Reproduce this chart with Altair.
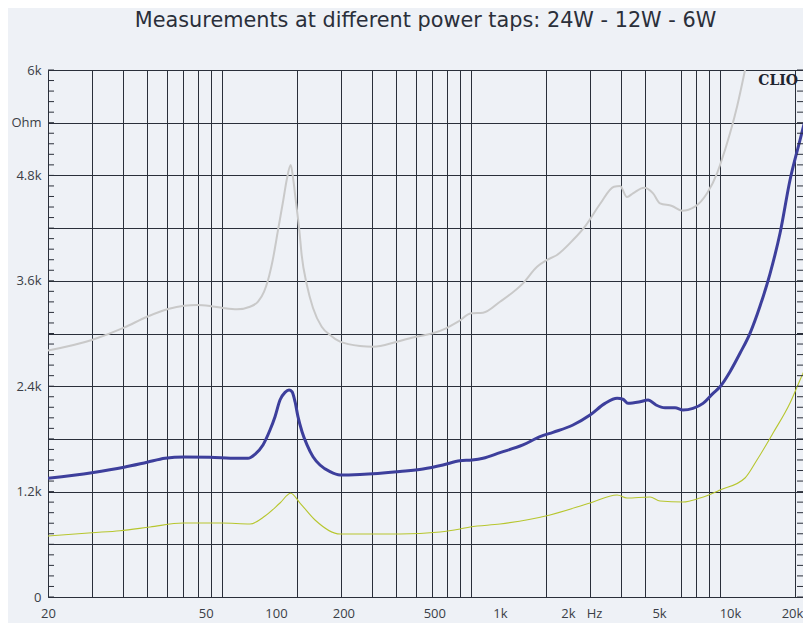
import altair as alt
import pandas as pd

# ---- data (frequency in Hz, value in Ohm) ----
grey_f = [20, 30, 40.4, 50, 60.7, 70.3, 79.3, 89.4, 100.8, 114.8, 129.5, 139.5, 147.5, 153,
          159.8, 167.8, 176.2, 181.8, 188.7, 193.3, 197.6, 204.3, 208.9, 218.8, 231.9, 251.3,
          271.4, 297.7, 358.2, 403.9, 504.2, 601, 703, 793, 887, 1000, 1117, 1307, 1616, 1841,
          2018, 2213, 2566, 2896, 3296, 3750, 3966, 4229, 4468, 4950, 5383, 5740, 6414, 7034,
          7929, 8867, 9724, 9999, 10964, 11698, 12594, 12950]
grey_v = [2806, 2926, 3066, 3191, 3279, 3316, 3324, 3313, 3290, 3275, 3305, 3362, 3476, 3609,
          3837, 4178, 4520, 4748, 4918, 4748, 4520, 4178, 3890, 3560, 3290, 3077,
          2983, 2907, 2858, 2850, 2907, 2964, 3002, 3059, 3134, 3230, 3237, 3362, 3571, 3760,
          3837, 3894, 4064, 4235, 4474, 4671, 4679, 4554, 4596, 4660, 4596, 4482, 4452, 4398,
          4444, 4596, 4824, 4918, 5279, 5582, 6000, 6170]

blue_f = [20, 30, 40.4, 50, 59, 70.3, 89.4, 114.8, 127, 135.6, 146, 155.8, 163.2, 170.9, 179,
          185.8, 191, 196.4, 201.8, 209.5, 219.4, 231.9, 247.4, 271.4, 297.7, 358, 518, 641,
          771, 903, 1009, 1117, 1307, 1616, 1892, 2134, 2566, 3004, 3452, 3860, 4075, 4268,
          4771, 5136, 5532, 6011, 6594, 7098, 7783, 8541, 9373, 9999, 10964, 12025, 13188,
          14463, 15868, 17411, 19099, 20947, 22544]
blue_v = [1351, 1415, 1477, 1534, 1579, 1594, 1590, 1579, 1579, 1625, 1731, 1901, 2053, 2243,
          2330, 2357, 2337, 2223, 2053, 1882, 1731, 1597, 1503, 1427, 1389, 1395, 1429, 1457,
          1503, 1552, 1560, 1579, 1643, 1731, 1825, 1875, 1958, 2072, 2205, 2262, 2251, 2205,
          2223, 2243, 2186, 2155, 2155, 2129, 2148, 2205, 2319, 2394, 2565, 2775, 3002,
          3310, 3680, 4141, 4748, 5203, 5564]

yellow_f = [20, 30, 38.9, 51.4, 69.7, 100, 129.5, 148.8, 170.9, 188.7, 205.6, 236.3, 297.7,
            358, 518, 750.6, 903, 990.6, 1307, 2075, 3004, 3860, 4229, 5233, 5740, 7098, 8309,
            9999, 12594, 14067, 16325, 19099, 20947, 22544]
yellow_v = [694, 732, 755, 797, 842, 842, 831, 922, 1070, 1181, 1070, 877, 717,
            717, 717, 740, 774, 797, 831, 934, 1070, 1161, 1127, 1139, 1093, 1082, 1127,
            1218, 1355, 1560, 1867, 2209, 2471, 2675]

series_names = ["6W", "12W", "24W"]
series_colors = ["#c9c9c9", "#3d3f9c", "#b7c62e"]
series_widths = [2, 3, 1.1]

# x-axis: gridlines (Hz) and the tick labels as they sit in the picture
grid_x = [30, 40, 50, 60, 70, 80, 90, 100, 200, 300, 400, 500, 600, 700, 800, 900,
          1000, 2000, 3000, 4000, 5000, 7000, 8000, 9000, 10000, 20000]
xlabel_pos = [20, 86, 164.7, 307, 712, 1306, 2450, 3118, 5688, 10965, 19450]
xlabel_txt = ["20", "50", "100", "200", "500", "1k", "2k", "Hz", "5k", "10k", "20k"]

# y-axis
y_grid = [0, 600, 1200, 1800, 2400, 3000, 3600, 4200, 4800, 5400, 6000]
y_labels = {0: "0", 1200: "1.2k", 2400: "2.4k", 3600: "3.6k", 4800: "4.8k", 5400: "Ohm", 6000: "6k"}
y_minor = list(range(0, 6001, 120))

W, H = 755, 527
FONT = "Open Sans"
GRID = "#2a2f3a"
TXT = "#3a3e46"

x_scale = alt.Scale(type="log", domain=[20, 21532], nice=False)
y_scale = alt.Scale(domain=[0, 6000], nice=False, zero=False)

# label expressions
ylab_expr = ""
for val in y_grid:
    ylab_expr += f"datum.value == {val} ? '{y_labels.get(val, '')}' : "
ylab_expr += "''"

xlab_expr = ""
for k in range(len(xlabel_pos) - 1):
    mid = (xlabel_pos[k] * xlabel_pos[k + 1]) ** 0.5
    xlab_expr += f"datum.value < {mid:.2f} ? '{xlabel_txt[k]}' : "
xlab_expr += f"'{xlabel_txt[-1]}'"

y_axis = alt.Axis(values=y_grid, grid=True, ticks=False, tickSize=0, domain=False, title=None,
                  labelExpr=ylab_expr, gridColor=GRID, gridWidth=1, gridOpacity=1,
                  labelFont=FONT, labelFontSize=13, labelColor=TXT, labelPadding=7)
x_grid_axis = alt.Axis(values=grid_x, grid=True, labels=False, ticks=False, domain=False,
                       title=None, gridColor=GRID, gridWidth=1, gridOpacity=1, orient="bottom")

line_layers = []
for k, (name, fs, vs) in enumerate([("6W", grey_f, grey_v), ("12W", blue_f, blue_v),
                                    ("24W", yellow_f, yellow_v)]):
    d = pd.DataFrame({"f": fs, "v": vs, "i": list(range(len(fs)))})
    line_layers.append(
        alt.Chart(d).mark_line(interpolate="monotone", clip=True, color=series_colors[k],
                               strokeWidth=series_widths[k]).encode(
            x=alt.X("f:Q", scale=x_scale, axis=x_grid_axis),
            y=alt.Y("v:Q", scale=y_scale, axis=y_axis),
            order="i:Q",
        )
    )

xlab_df = pd.DataFrame({"pos": xlabel_pos, "txt": xlabel_txt})
xlabels = alt.Chart(xlab_df).mark_point(opacity=0).encode(
    x=alt.X("pos:Q", scale=x_scale,
            axis=alt.Axis(values=xlabel_pos, labelExpr=xlab_expr, grid=False, ticks=False, tickSize=0,
                          domain=False, title=None, orient="bottom", labelFlush=False,
                          labelOverlap=False, labelFont=FONT, labelFontSize=13, labelColor=TXT,
                          labelPadding=10)),
)

minor_df = pd.DataFrame({"v": y_minor})
ticks_left = alt.Chart(minor_df).mark_rule(color=GRID, strokeWidth=1).encode(
    y=alt.Y("v:Q", scale=y_scale, axis=y_axis), x=alt.value(0), x2=alt.value(6))
ticks_right = alt.Chart(minor_df).mark_rule(color=GRID, strokeWidth=1).encode(
    y=alt.Y("v:Q", scale=y_scale, axis=y_axis), x=alt.value(W - 6), x2=alt.value(W))

clio = alt.Chart(pd.DataFrame({"t": ["CLIO"]})).mark_text(
    font="DejaVu Serif", fontWeight="bold", fontSize=14, color="#1e2430", align="right",
    baseline="middle").encode(
    x=alt.XDatum(20570, scale=x_scale, axis=None),
    y=alt.YDatum(5880, scale=y_scale, axis=y_axis),
    text="t:N")

layers = line_layers + [xlabels, ticks_left, ticks_right, clio]
chart = alt.layer(*layers).resolve_axis(x="independent").properties(
    width=W, height=H,
    title=alt.TitleParams("Measurements at different power taps: 24W - 12W - 6W",
                          font="DejaVu Sans", fontSize=20.8, fontWeight="normal", color="#2a2f3a",
                          anchor="middle", offset=32),
    autosize=alt.AutoSizeParams(type="none"),
    padding={"left": 40, "top": 62, "right": 0, "bottom": 28},
).configure(background="#eef1f6").configure_view(stroke=GRID, strokeWidth=1, fill="#eef1f6")

chart.save("out.html", embed_options={"renderer": "svg", "actions": False})
